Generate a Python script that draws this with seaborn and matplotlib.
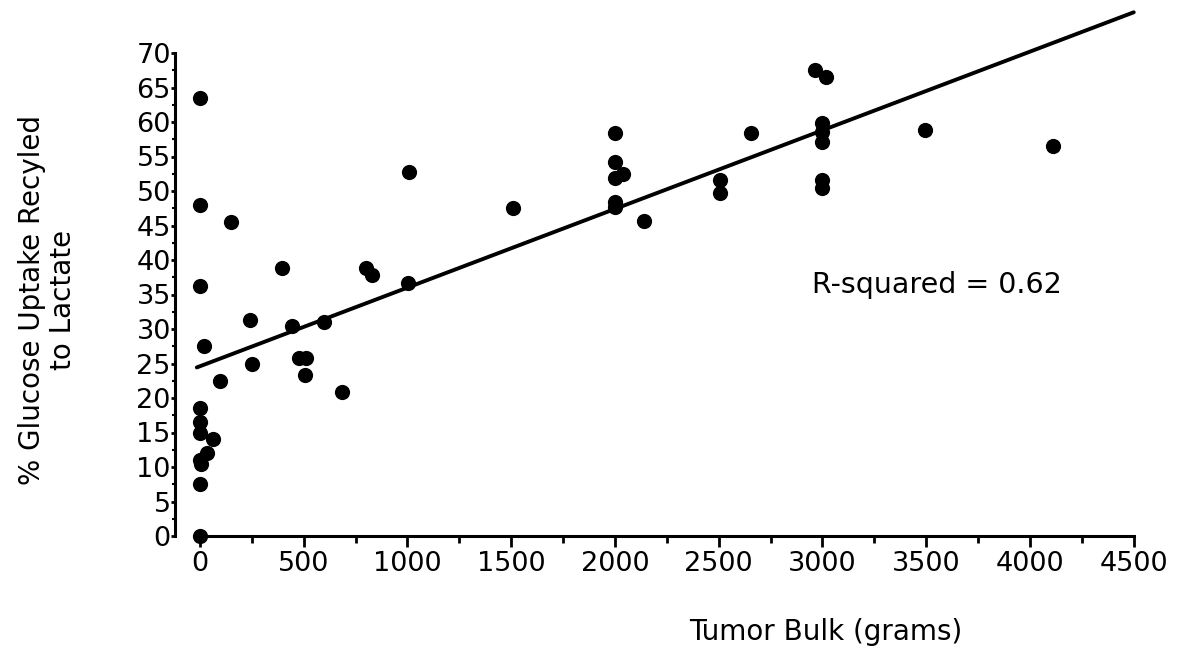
import numpy as np
import pandas as pd
import seaborn as sns
import matplotlib.pyplot as plt

# valors llegits del grafic
tumor_bulk = [0, 0, 0, 20, 0, 0, 0, 0, 5, 35, 63, 0, 0,
              96, 150, 241, 250, 395, 443, 477, 511, 506, 598, 684, 800, 829,
              1007, 1005, 1508,
              2000, 2000, 2000, 2000, 2000, 2040, 2140,
              2506, 2506, 2654,
              2964, 3017, 2996, 2996, 2996, 2996, 2996,
              3494, 4111]
recycled = [63.5, 48, 36.2, 27.5, 18.5, 16.5, 15, 11, 10.5, 12, 14, 7.5, 0,
            22.4, 45.5, 31.3, 25, 38.8, 30.5, 25.8, 25.8, 23.4, 31, 20.8, 38.8, 37.8,
            52.8, 36.6, 47.5,
            58.4, 54.2, 51.9, 48.4, 47.7, 52.5, 45.6,
            51.6, 49.7, 58.4,
            67.6, 66.5, 59.9, 58.6, 57.1, 51.6, 50.4,
            58.8, 56.5]

# recta de regressio
fit_intercept = 24.6
fit_slope = 0.0114
fit_x = [-15, 4500]
r_squared = 0.62

x_ticks = list(range(0, 4501, 500))
y_ticks = list(range(0, 71, 5))

df = pd.DataFrame({"bulk": tumor_bulk, "pct": recycled})
fit = pd.DataFrame({"x": fit_x})
fit["y"] = fit_intercept + fit_slope * fit["x"]

sns.set_style("white")
plt.rcParams["font.family"] = ["DejaVu Sans"]
plt.rcParams["text.color"] = "black"
plt.rcParams["axes.labelcolor"] = "black"
plt.rcParams["xtick.color"] = "black"
plt.rcParams["ytick.color"] = "black"

fig = plt.figure(figsize=(11.81, 6.52), dpi=100)
ax = fig.add_axes([175 / 1181, 109.1 / 652, 971.2 / 1181, 538.2 / 652])

sns.lineplot(data=fit, x="x", y="y", ax=ax, color="black", linewidth=2.8,
             solid_capstyle="round")
sns.scatterplot(data=df, x="bulk", y="pct", ax=ax, color="black", s=120,
                edgecolor="black", linewidth=0, clip_on=False, zorder=5)

ax.set_xlim(-120, 4560)
ax.set_ylim(-1, 77)

for s in ["top", "right"]:
    ax.spines[s].set_visible(False)
ax.spines["bottom"].set_position(("data", 0))
ax.spines["bottom"].set_bounds(0, 4500)
ax.spines["left"].set_bounds(0, 70)
for s in ["bottom", "left"]:
    ax.spines[s].set_linewidth(2.2)
    ax.spines[s].set_color("black")

ax.set_xticks(x_ticks)
ax.set_yticks(y_ticks)
ax.set_xticks([t + 250 for t in x_ticks[:-1]], minor=True)
ax.set_yticks([t + 2.5 for t in y_ticks[:-1]], minor=True)
ax.tick_params(axis="x", which="major", direction="out", length=8, width=2,
               labelsize=19.5, pad=3, bottom=True)
ax.tick_params(axis="x", which="minor", direction="out", length=5, width=2, bottom=True)
ax.tick_params(axis="y", which="major", direction="out", length=3, width=2,
               labelsize=19.5, pad=0, left=True)
ax.tick_params(axis="y", which="minor", direction="out", length=2, width=1.5, left=True)

ax.set_xlabel("Tumor Bulk (grams)", fontsize=20)
ax.xaxis.set_label_coords(0.670, -0.1395)
ax.set_ylabel("% Glucose Uptake Recyled\nto Lactate", fontsize=20, linespacing=1.12)
ax.yaxis.set_label_coords(-0.101, 0.451)

ax.text(2950, 36.4, f"R-squared = {r_squared}", fontsize=20.5, va="center", ha="left")

fig.savefig("out.png", dpi=100, facecolor="white")
